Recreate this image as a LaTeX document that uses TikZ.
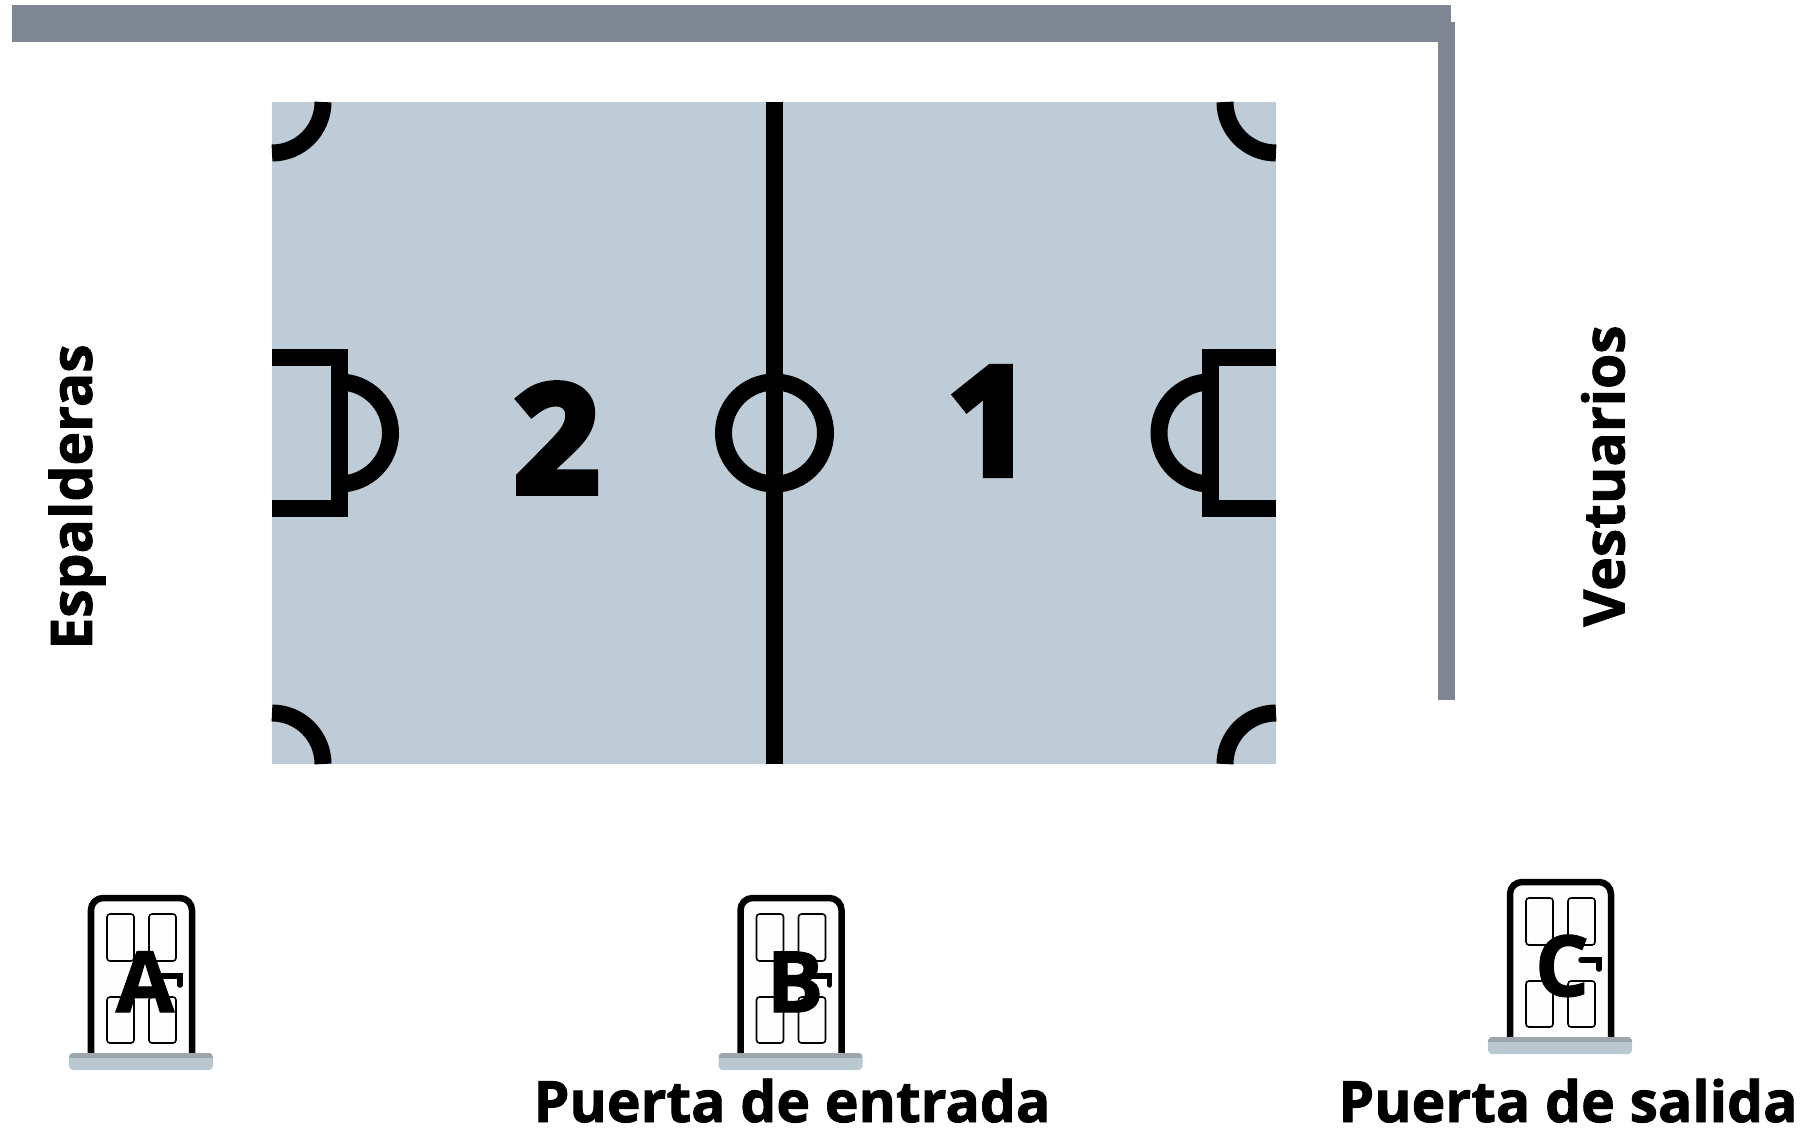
\documentclass[tikz,border=0pt]{standalone}
\usepackage{fontspec}
\setmainfont{Open Sans}
\newfontfamily\heavyfont[FakeBold=1.6]{Open Sans}
\newfontfamily\blackfont[FakeBold=5]{Open Sans}
\definecolor{courtblue}{HTML}{BDCCD6}
\definecolor{wallgrey}{HTML}{7F8795}
\definecolor{stepblue}{HTML}{BAC8D2}
\definecolor{stepdark}{HTML}{9AA7AF}
\definecolor{doorwhite}{HTML}{FDFEFD}
\begin{document}
\begin{tikzpicture}[x=0.01cm,y=-0.01cm,%
court/.style={fill=courtblue},
wall/.style={fill=wallgrey},
courtline/.style={line width=0.17cm,draw=black},
label/.style={inner sep=0,font=\heavyfont\bfseries\fontsize{16.2}{16.2}\selectfont},
zone/.style={inner sep=0,font=\blackfont\bfseries\fontsize{42.5}{42.5}\selectfont},
letter/.style={inner sep=0,anchor=base,font=\heavyfont\bfseries\fontsize{24}{24}\selectfont},
doorframe/.style={line width=0.065cm,draw=black,fill=doorwhite,rounded corners=0.12cm},
doorpanel/.style={line width=0.016cm,draw=black,rounded corners=0.03cm},
doorhandle/.style={line width=0.055cm,draw=black,line cap=round},
door/.pic={
  \draw[doorframe] (3,158) -- (3,3) -- (104,3) -- (104,158);
  \draw[doorpanel] (19,19) rectangle (46,66);
  \draw[doorpanel] (61,19) rectangle (88,66);
  \draw[doorpanel] (19,102) rectangle (46,148);
  \draw[doorpanel] (61,102) rectangle (88,148);
  \draw[doorhandle] (74,81) -- (92,81) -- (92,90);
  \fill[stepblue,rounded corners=0.04cm] (-19,158) rectangle (125,175);
  \begin{scope}
    \clip[rounded corners=0.04cm] (-19,158) rectangle (125,175);
    \fill[stepdark] (-19,158) rectangle (125,163);
  \end{scope}
}]
\useasboundingbox (0,0) rectangle (1818,1130);
% walls
\fill[wall] (12,5) rectangle (1451,42);
\fill[wall] (1438,22) rectangle (1455,700);
% court
\fill[court] (272,102) rectangle (1276,764);
\draw[courtline] (774.5,102) -- (774.5,764);
\draw[courtline] (774.5,433) circle (51);
\draw[courtline] (323,102) arc[start angle=0,end angle=90,radius=51];
\draw[courtline] (272,713) arc[start angle=-90,end angle=0,radius=51];
\draw[courtline] (1225,102) arc[start angle=180,end angle=90,radius=51];
\draw[courtline] (1276,713) arc[start angle=270,end angle=180,radius=51];
\draw[courtline] (272,357) -- (339.5,357) -- (339.5,508) -- (272,508);
\draw[courtline] (339.5,382) arc[start angle=-90,end angle=90,radius=51];
\draw[courtline] (1276,357) -- (1210,357) -- (1210,508) -- (1276,508);
\draw[courtline] (1210,382) arc[start angle=270,end angle=90,radius=51];
\node[zone] (two) at (556.5,438) {2};
\node[zone] (one) at (990,421) {1};
% side labels
\node[label,rotate=90] (espalderas) at (77,497) {Espalderas};
\node[label,rotate=90] (vestuarios) at (1603,476) {Vestuarios};
% doors
\pic at (88,895) {door};
\pic at (737.5,895) {door};
\pic at (1507,879) {door};
\node[letter] (a) at (145,1012) {A};
\node[letter] (b) at (795,1012) {B};
\node[letter] (c) at (1562,996) {C};
\node[label,anchor=base] (entrada) at (792,1122) {Puerta de entrada};
\node[label,anchor=base] (salida) at (1568,1122) {Puerta de salida};
\end{tikzpicture}
\end{document}
